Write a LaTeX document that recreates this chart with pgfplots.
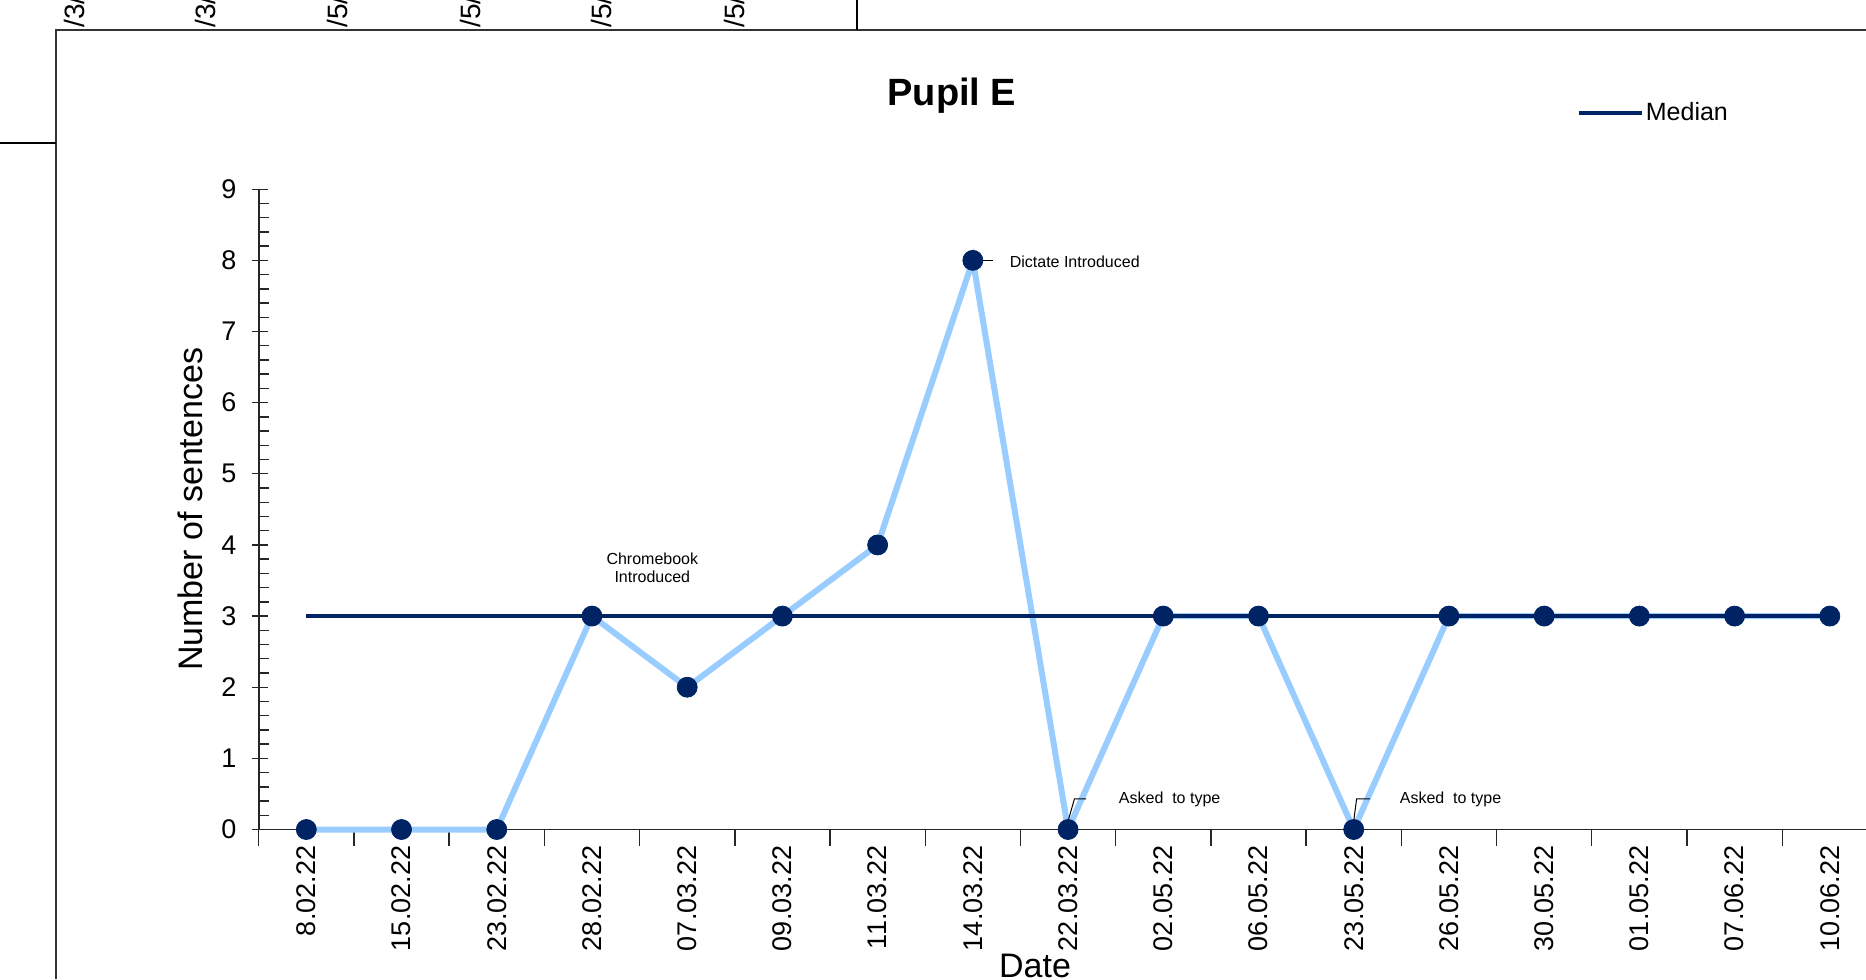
\documentclass[border=0pt]{standalone}
\usepackage{pgfplots}
\pgfplotsset{compat=1.18}
\usepackage{pgfplotstable}
\usepackage{fontspec}
\setmainfont{Liberation Sans}
\definecolor{lblue}{RGB}{153,204,255}
\definecolor{navy}{RGB}{0,35,100}
\pgfplotstableread{
x y
0 0
1 0
2 0
3 3
4 2
5 3
6 4
7 8
8 0
9 3
10 3
11 0
12 3
13 3
14 3
15 3
16 3
}\pupil
\pgfplotstableread{
x y
0 3
16 3
}\median
\begin{document}
\begin{tikzpicture}
\useasboundingbox (0pt,0pt) rectangle (933pt,-489.5pt);
\clip (0pt,0pt) rectangle (933pt,-489.5pt);
\begin{scope}[x=0.5pt,y=-0.5pt]
\draw[line width=0.8pt, black!80] (56,979) -- (56,30) -- (1866,30);
\draw[line width=0.6pt] (0,143) -- (56,143);
\draw[line width=0.6pt] (857,0) -- (857,30);
\begin{scope}[font=\fontsize{14}{16}\selectfont]
\node[rotate=90, anchor=west, inner sep=0pt] at (74,28) {/3/};
\node[rotate=90, anchor=west, inner sep=0pt] at (205,28) {/3/};
\node[rotate=90, anchor=west, inner sep=0pt] at (337,28) {/5/};
\node[rotate=90, anchor=west, inner sep=0pt] at (470,28) {/5/};
\node[rotate=90, anchor=west, inner sep=0pt] at (601,28) {/5/};
\node[rotate=90, anchor=west, inner sep=0pt] at (734,28) {/5/};
\end{scope}
\end{scope}
\begin{axis}[
  at={(129.35pt,-414.75pt)}, anchor=south west,
  scale only axis, width=803.65pt, height=320.15pt,
  xmin=-0.5, xmax=16.38, ymin=0, ymax=9,
  clip=false,
  /pgf/number format/assume math mode=true,
  axis x line=bottom, axis y line=left,
  axis line style={-, line width=0.9pt, black!85},
  tick style={line width=0.7pt, black!85},
  tick align=outside,
  major tick length=8pt,
  minor tick length=5pt,
  ytick={0,...,9}, minor y tick num=4,
  every major y tick/.append style={xshift=4.5pt},
  every minor y tick/.append style={xshift=5pt},
  xtick={-0.5,0.5,...,16.5}, xticklabels={},
  extra x ticks={0,...,16},
  extra x tick labels={8.02.22,15.02.22,23.02.22,28.02.22,07.03.22,09.03.22,11.03.22,14.03.22,22.03.22,02.05.22,06.05.22,23.05.22,26.05.22,30.05.22,01.05.22,07.06.22,10.06.22},
  extra x tick style={tick style={draw=none}},
  x tick label style={rotate=90, anchor=east, inner sep=0pt, font=\fontsize{13.5}{15}\selectfont},
  y tick label style={inner sep=0pt, font=\fontsize{13.5}{15}\selectfont},
  yticklabel shift=3pt,
  xlabel={Date}, ylabel={Number of sentences},
  xlabel style={at={(axis description cs:0.483,-0.2132)}, anchor=center, font=\fontsize{17}{19}\selectfont},
  ylabel style={at={(axis description cs:-0.0427,0.5)}, anchor=center, font=\fontsize{17}{19}\selectfont},
  title={Pupil E},
  title style={at={(axis description cs:0.4313,1.127)}, anchor=center, yshift=0pt, font=\bfseries\fontsize{19}{22}\selectfont},
  legend style={at={(axis description cs:0.8195,1.119)}, anchor=west, draw=none, fill=none, inner sep=0pt, font=\fontsize{12.5}{14}\selectfont},
  legend image code/.code={\draw[#1] (0pt,0pt) -- (31.5pt,0pt);},
]
\addplot[lblue, line width=3pt, forget plot] table[x=x,y=y] {\pupil};
\addplot[navy, line width=2.3pt] table[x=x,y=y] {\median};
\addlegendentry{\hspace{-1pt}Median}
\addplot[only marks, mark=*, mark size=5pt, mark options={fill=navy, draw=navy}, forget plot] table[x=x,y=y] {\pupil};
\node[align=center, font=\fontsize{8}{9}\selectfont] at (axis cs:3.634,3.675) {Chromebook\\Introduced};
\draw[line width=0.5pt] (axis cs:7,8) -- (axis cs:7.216,8);
\node[anchor=west, inner sep=0pt, font=\fontsize{8}{9}\selectfont] at (axis cs:7.384,7.975) {Dictate Introduced};
\draw[line width=0.5pt] (axis cs:8,0.12) -- (axis cs:8.067,0.43) -- (axis cs:8.19,0.43);
\node[anchor=west, inner sep=0pt, font=\fontsize{8}{9}\selectfont] at (axis cs:8.53,0.43) {Asked\ \ to type};
\draw[line width=0.5pt] (axis cs:11,0.12) -- (axis cs:11.03,0.43) -- (axis cs:11.17,0.43);
\node[anchor=west, inner sep=0pt, font=\fontsize{8}{9}\selectfont] at (axis cs:11.48,0.43) {Asked\ \ to type};
\end{axis}
\end{tikzpicture}
\end{document}
